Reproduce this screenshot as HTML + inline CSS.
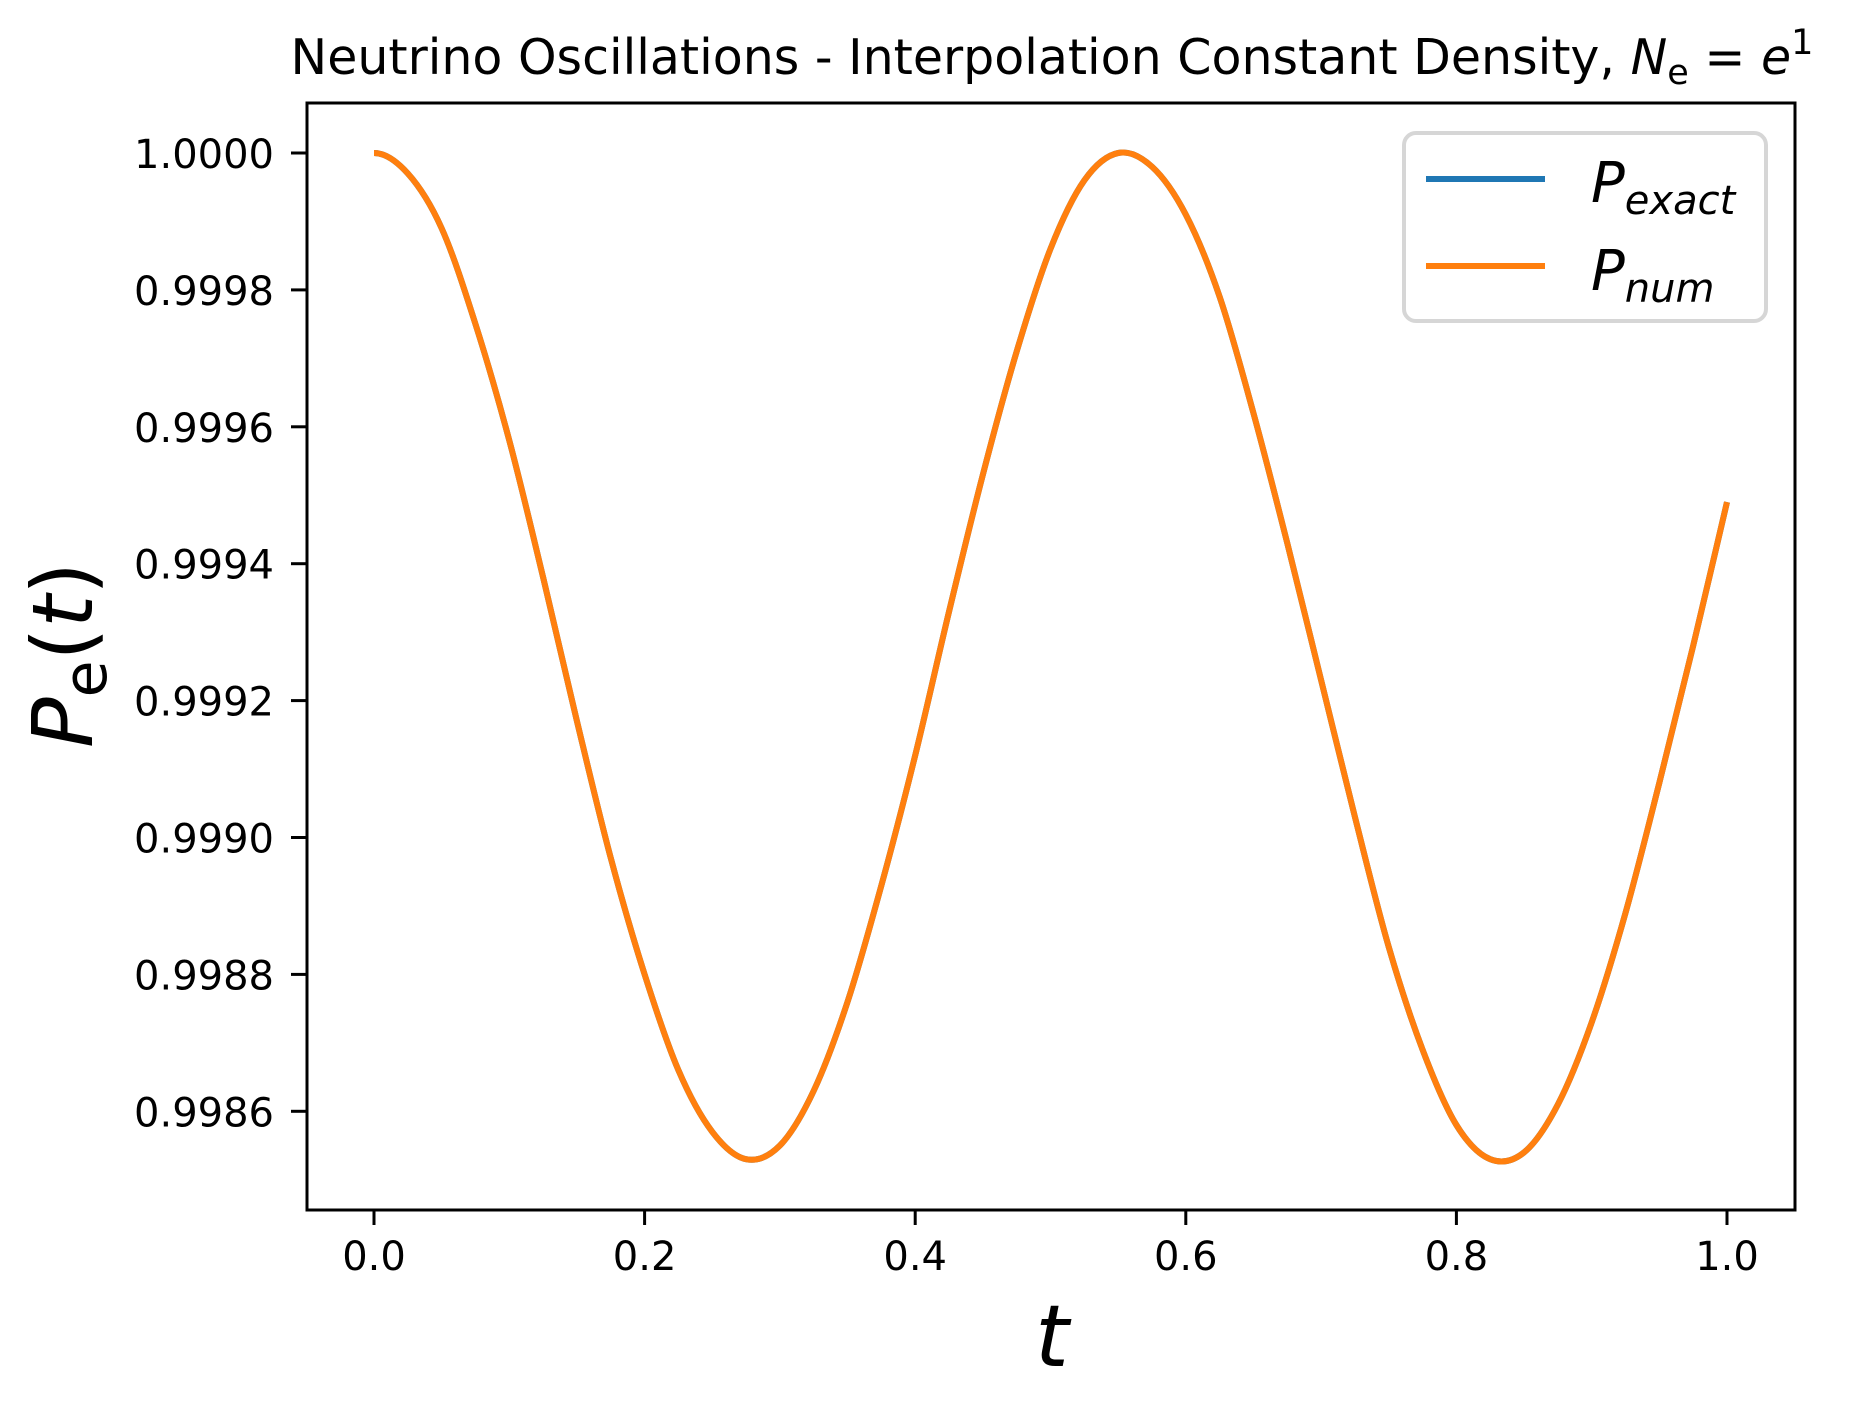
<!DOCTYPE html>
<html><head><meta charset="utf-8"><style>
html,body{margin:0;padding:0;background:#fff;}
svg{display:block;font-family:"DejaVu Sans","Liberation Sans",sans-serif;}
</style></head><body>
<svg id="chart" width="1850" height="1407" viewBox="0 0 1850 1407" xmlns="http://www.w3.org/2000/svg">
<rect width="1850" height="1407" fill="#fff"/>
<text x="1052" y="74" font-size="49" text-anchor="middle">Neutrino Oscillations - Interpolation Constant Density, <tspan font-style="italic">N</tspan><tspan font-size="35" dy="10">e</tspan><tspan dy="-10"> = </tspan><tspan font-style="italic">e</tspan><tspan font-size="35" dy="-20">1</tspan></text>
<g id="series"></g>
<g id="axes"></g>
<rect x="307" y="103" width="1488" height="1107" fill="none" stroke="#000" stroke-width="3"/>
<text transform="translate(92,655) rotate(-90)" font-size="84" text-anchor="middle"><tspan font-style="italic">P</tspan><tspan font-size="60" dy="14">e</tspan><tspan dy="-14">(</tspan><tspan font-style="italic">t</tspan>)</text>
<text x="1052" y="1366" font-size="86" font-style="italic" text-anchor="middle">t</text>
<g>
<rect x="1404" y="133" width="362" height="188" rx="12" fill="#fff" stroke="#d6d6d6" stroke-width="4"/>
<line x1="1426" y1="179" x2="1545" y2="179" stroke="#1f77b4" stroke-width="6"/>
<text x="1591" y="202" font-size="56"><tspan font-style="italic">P</tspan><tspan font-style="italic" font-size="40" dy="12">exact</tspan></text>
<line x1="1426" y1="266" x2="1545" y2="266" stroke="#ff7f0e" stroke-width="6"/>
<text x="1591" y="290" font-size="56"><tspan font-style="italic">P</tspan><tspan font-style="italic" font-size="40" dy="12">num</tspan></text>
</g>
</svg>
<script>
const tValues=[0,0.025,0.05,0.075,0.1,0.125,0.15,0.175,0.2,0.225,0.25,0.275,0.3,0.325,0.35,0.375,0.4,0.425,0.45,0.475,0.5,0.525,0.55,0.575,0.6,0.625,0.65,0.675,0.7,0.725,0.75,0.775,0.8,0.825,0.85,0.875,0.9,0.925,0.95,0.975,1.0];
const pExact=[1.00000,0.99997,0.99989,0.99975,0.99958,0.99938,0.99917,0.99897,0.99880,0.99866,0.99857,0.99853,0.99855,0.99863,0.99876,0.99893,0.99912,0.99933,0.99953,0.99971,0.99986,0.99996,1.00000,0.99998,0.99991,0.99979,0.99962,0.99943,0.99923,0.99903,0.99884,0.99869,0.99858,0.99853,0.99854,0.99861,0.99873,0.99889,0.99908,0.99928,0.99949];
const pNum=[1.00000,0.99997,0.99989,0.99975,0.99958,0.99938,0.99917,0.99897,0.99880,0.99866,0.99857,0.99853,0.99855,0.99863,0.99876,0.99893,0.99912,0.99933,0.99953,0.99971,0.99986,0.99996,1.00000,0.99998,0.99991,0.99979,0.99962,0.99943,0.99923,0.99903,0.99884,0.99869,0.99858,0.99853,0.99854,0.99861,0.99873,0.99889,0.99908,0.99928,0.99949];
const xTicks=[0,0.2,0.4,0.6,0.8,1.0];
const xTickLabels=["0.0","0.2","0.4","0.6","0.8","1.0"];
const yTicks=[1.0,0.9998,0.9996,0.9994,0.9992,0.9990,0.9988,0.9986];
const yTickLabels=["1.0000","0.9998","0.9996","0.9994","0.9992","0.9990","0.9988","0.9986"];

const NS="http://www.w3.org/2000/svg";
function xs(v){return 374+(v-0)*(1727-374);}
function ys(v){return 153+(1.0-v)/0.0002*136.9;}
const axes=document.getElementById('axes');
xTicks.forEach((v,i)=>{
  const l=document.createElementNS(NS,'line');
  l.setAttribute('x1',xs(v));l.setAttribute('x2',xs(v));l.setAttribute('y1',1210);l.setAttribute('y2',1225);
  l.setAttribute('stroke','#000');l.setAttribute('stroke-width','3');
  
  
  axes.appendChild(l);
  const t=document.createElementNS(NS,'text');
  t.setAttribute('x',xs(v));t.setAttribute('y',1270);t.setAttribute('font-size','40');t.setAttribute('text-anchor','middle');
  t.textContent=xTickLabels[i];
  
  
  axes.appendChild(t);
});
yTicks.forEach((v,i)=>{
  const l=document.createElementNS(NS,'line');
  l.setAttribute('x1',291);l.setAttribute('x2',307);l.setAttribute('y1',ys(v));l.setAttribute('y2',ys(v));
  l.setAttribute('stroke','#000');l.setAttribute('stroke-width','3');
  
  
  axes.appendChild(l);
  const t=document.createElementNS(NS,'text');
  t.setAttribute('x',274);t.setAttribute('y',ys(v)+15);t.setAttribute('font-size','40');t.setAttribute('text-anchor','end');
  t.textContent=yTickLabels[i];
  
  
  axes.appendChild(t);
});
function pathFor(vals){
  const p=tValues.map((t,i)=>[xs(t),ys(vals[i])]);
  let d='M'+p[0][0]+','+p[0][1];
  for(let i=0;i<p.length-1;i++){
    const p0=i>0?p[i-1]:[2*p[0][0]-p[1][0],p[1][1]];
    const p1=p[i],p2=p[i+1];
    const p3=i+2<p.length?p[i+2]:[2*p[i+1][0]-p[i][0],2*p[i+1][1]-p[i][1]];
    const c1x=p1[0]+(p2[0]-p0[0])/6,c1y=p1[1]+(p2[1]-p0[1])/6;
    const c2x=p2[0]-(p3[0]-p1[0])/6,c2y=p2[1]-(p3[1]-p1[1])/6;
    d+=' C'+c1x+','+c1y+' '+c2x+','+c2y+' '+p2[0]+','+p2[1];
  }
  return d;
}
const g=document.getElementById('series');
const pe=document.createElementNS(NS,'path');
pe.setAttribute('d',pathFor(pExact));pe.setAttribute('fill','none');pe.setAttribute('stroke','#1f77b4');pe.setAttribute('stroke-width','6');


g.appendChild(pe);
const pn=document.createElementNS(NS,'path');
pn.setAttribute('d',pathFor(pNum));pn.setAttribute('fill','none');pn.setAttribute('stroke','#ff7f0e');pn.setAttribute('stroke-width','6');


g.appendChild(pn);
</script>
</body></html>
